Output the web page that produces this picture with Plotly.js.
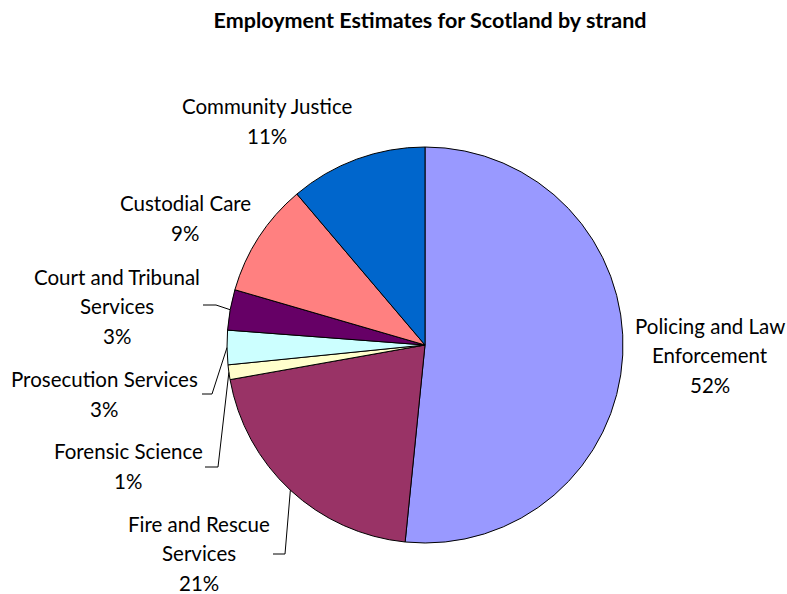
<!DOCTYPE html>
<html>
<head>
<meta charset="utf-8">
<script src="https://cdn.plot.ly/plotly-3.0.1.min.js"></script>
<style>html,body{margin:0;padding:0;background:#fff;}#chart{width:787px;height:594px;}</style>
</head>
<body>
<div id="chart"></div>
<script>
// ---- data ----
const categories = ["Policing and Law Enforcement", "Fire and Rescue Services", "Forensic Science",
  "Prosecution Services", "Court and Tribunal Services", "Custodial Care", "Community Justice"];
const displayLabels = ["Policing and Law<br>Enforcement", "Fire and Rescue<br>Services", "Forensic Science",
  "Prosecution Services", "Court and Tribunal<br>Services", "Custodial Care", "Community Justice"];
const values = [51.6, 20.6, 1.2, 2.8, 3.3, 9.3, 11.2];
const colors = ["#9999FF", "#993366", "#FFFFCC", "#CCFFFF", "#660066", "#FF8080", "#0066CC"];

// ---- layout geometry (pixels) ----
const W = 787, H = 594;
const CX = 425, CY = 345, R = 198;
// label block centres (px) and leader-line starts [xStart, xBend, y] (null = no leader)
const labelPos = [[710, 355], [199, 553], [128, 466], [104, 394], [117, 306], [185, 218], [267, 121]];
const leaders = [null, [273, 285, 554], [205, 218, 467], [202, 212, 394], [203, 216, 305], null, null];
const FONT = "Lato, 'Open Sans', sans-serif";
const FS = 20.5, LINE = 29.5;

const px = x => x / W, py = y => 1 - y / H;
const total = values.reduce((a, b) => a + b, 0);

const annotations = [];
const shapes = [];
let cum = 0;
values.forEach((v, i) => {
  const mid = (cum + v / 2) / total * 2 * Math.PI;
  cum += v;
  const lines = displayLabels[i].split("<br>");
  lines.push(Math.round(v / total * 100) + "%");
  const [lx, ly] = labelPos[i];
  const y0 = ly - (lines.length - 1) * LINE / 2;
  lines.forEach((t, k) => {
    annotations.push({
      text: t, xref: "paper", yref: "paper", x: px(lx), y: py(y0 + k * LINE),
      xanchor: "center", yanchor: "middle", showarrow: false,
      font: {family: FONT, size: FS, color: "#000"}
    });
  });
  if (leaders[i]) {
    const [xs, xb, yl] = leaders[i];
    const ex = CX + R * Math.sin(mid), ey = CY - R * Math.cos(mid);
    shapes.push({
      type: "path", xref: "paper", yref: "paper",
      path: `M ${px(xs)} ${py(yl)} L ${px(xb)} ${py(yl)} L ${px(ex)} ${py(ey)}`,
      line: {color: "#000", width: 1}
    });
  }
});

const trace = {
  type: "pie", labels: categories, values: values, sort: false, direction: "clockwise",
  rotation: 0, textinfo: "none", hoverinfo: "label+percent",
  marker: {colors: colors, line: {color: "#000", width: 1}},
  domain: {x: [px(CX - R), px(CX + R)], y: [py(CY + R), py(CY - R)]},
  showlegend: false
};

const layout = {
  width: W, height: H, margin: {l: 0, r: 0, t: 0, b: 0},
  paper_bgcolor: "#fff", plot_bgcolor: "#fff", showlegend: false,
  title: {text: "<b>Employment Estimates for Scotland by strand</b>", x: px(430), y: py(20),
    xref: "paper", yref: "paper", xanchor: "center", yanchor: "middle",
    font: {family: FONT, size: 21.5, color: "#000"}},
  annotations: annotations, shapes: shapes
};

Plotly.newPlot("chart", [trace], layout, {displayModeBar: false, staticPlot: true});
</script>
</body>
</html>
